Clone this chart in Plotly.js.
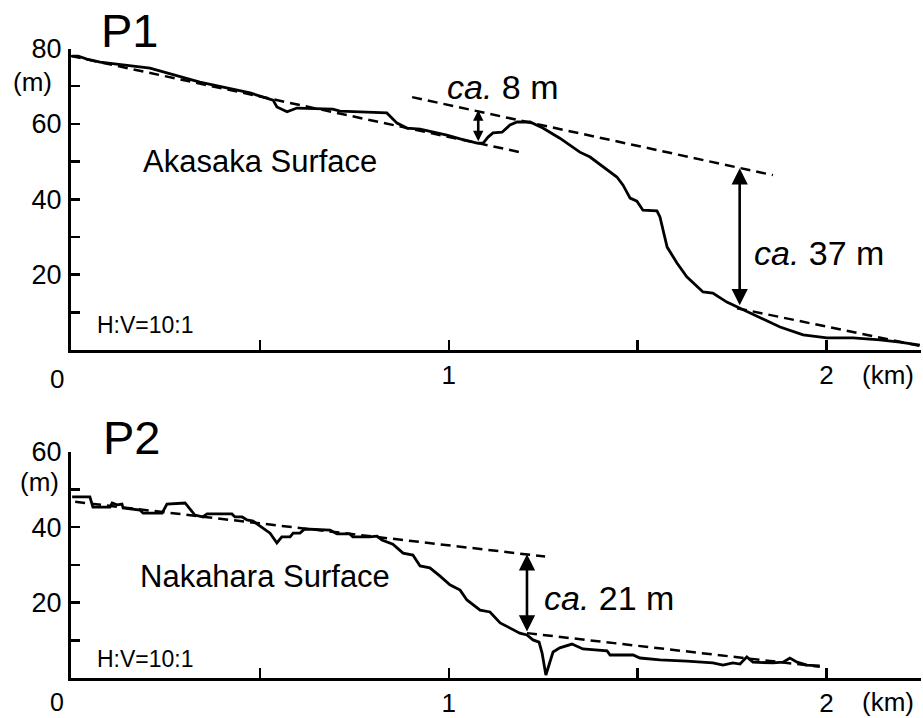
<!DOCTYPE html>
<html>
<head>
<meta charset="utf-8">
<script src="https://cdn.plot.ly/plotly-3.0.1.min.js"></script>
<style>
  html, body { margin: 0; padding: 0; background: #fff; }
  #chart { width: 923px; height: 718px; }
</style>
</head>
<body>
<div id="chart"></div>
<script>
// ---------------- DATA ----------------
// P1 profile (distance km, elevation m)
const p1Dist = [0.003,0.019,0.042,0.077,0.209,0.341,0.474,0.519,0.535,0.545,0.572,0.598,0.693,0.712,0.818,0.836,0.863,0.889,0.924,0.995,1.030,1.075,1.091,1.104,1.117,1.141,1.162,1.181,1.215,1.249,1.294,1.329,1.347,1.374,1.408,1.445,1.461,1.480,1.498,1.514,1.551,1.559,1.578,1.604,1.630,1.646,1.673,1.699,1.736,1.771,1.824,1.877,1.938,2.001,2.070,2.141,2.194,2.247];
const p1Elev = [78.0,78.0,77.2,76.4,74.8,71.1,68.2,66.9,66.3,64.5,63.2,64.2,63.9,63.4,63.1,62.9,60.2,58.9,58.6,57.0,56.0,54.9,54.9,56.5,57.6,57.8,59.7,60.5,60.5,58.9,56.2,53.9,52.5,51.2,48.6,45.9,43.8,40.3,39.5,37.1,36.9,35.3,27.3,23.1,19.4,18.0,15.4,15.1,12.7,11.1,8.5,6.1,4.0,3.2,3.2,2.7,2.1,1.3];

// P2 profile
const p2Dist = [0.003,0.050,0.058,0.103,0.109,0.122,0.135,0.138,0.183,0.191,0.241,0.254,0.302,0.328,0.349,0.360,0.426,0.434,0.453,0.466,0.482,0.506,0.527,0.545,0.558,0.580,0.588,0.606,0.619,0.686,0.704,0.738,0.746,0.791,0.810,0.823,0.852,0.879,0.905,0.924,0.950,0.977,1.003,1.030,1.048,1.083,1.109,1.136,1.162,1.188,1.207,1.223,1.239,1.247,1.257,1.276,1.294,1.326,1.355,1.419,1.427,1.488,1.506,1.559,1.630,1.699,1.726,1.752,1.771,1.789,1.805,1.858,1.885,1.903,1.922,1.948,1.982];
const p2Elev = [48.0,48.0,45.3,45.3,46.4,45.9,46.1,45.1,44.5,43.7,43.7,46.1,46.4,43.2,42.7,43.5,43.5,42.7,42.7,41.9,41.6,39.8,38.4,35.8,37.4,37.4,38.4,38.4,39.5,39.2,38.2,38.2,37.4,37.4,37.6,36.6,35.5,33.1,32.6,29.7,29.2,27.0,24.7,23.3,20.7,18.0,17.5,14.6,13.3,11.9,11.4,10.1,9.5,6.6,0.8,6.9,8.0,9.0,7.7,7.2,6.1,6.1,5.3,4.8,4.5,4.0,3.4,4.0,3.7,5.6,4.2,4.0,4.2,5.3,4.2,3.4,3.2];

// Reference surfaces (dashed)
const p1SurfA_x = [0.0, 1.188],   p1SurfA_y = [78.0, 52.5];
const p1SurfB_x = [0.903, 1.858], p1SurfB_y = [67.1, 46.4];
const p1SurfC_x = [1.763, 2.247], p1SurfC_y = [11.1, 1.1];
const p2SurfA_x = [0.011, 1.255], p2SurfA_y = [46.7, 32.2];
const p2SurfB_x = [1.207, 1.982], p2SurfB_y = [11.9, 3.0];

// Height-difference arrows: [x, top, bottom]
const p1Arrow8  = [1.078, 63.6, 55.0];
const p1Arrow37 = [1.770, 48.2, 11.5];
const p2Arrow21 = [1.207, 32.8, 11.9];

// Tick values / labels
const xTickVals = [0.5, 1, 1.5, 2];
const xTickText = ['', '1', '', '2'];
const y1TickVals = [10, 20, 30, 40, 50, 60, 70, 80];
const y1TickText = ['', '20', '', '40', '', '60', '', '80'];
const y2TickVals = [10, 20, 30, 40, 50, 60];
const y2TickText = ['', '20', '', '40', '', '60'];

// ---------------- CHART ----------------
const FONT = 'Liberation Sans, Arial, Helvetica, sans-serif';
const W = 923, H = 718;

const solid = {color: '#000', width: 2.8};
const dashed = {color: '#000', width: 2.5, dash: '10px,6px'};

const traces = [
  {x: p1Dist, y: p1Elev, xaxis: 'x', yaxis: 'y', mode: 'lines', line: solid, cliponaxis: false},
  {x: p1SurfA_x, y: p1SurfA_y, xaxis: 'x', yaxis: 'y', mode: 'lines', line: dashed, cliponaxis: false},
  {x: p1SurfB_x, y: p1SurfB_y, xaxis: 'x', yaxis: 'y', mode: 'lines', line: dashed, cliponaxis: false},
  {x: p1SurfC_x, y: p1SurfC_y, xaxis: 'x', yaxis: 'y', mode: 'lines', line: dashed, cliponaxis: false},
  {x: p2Dist, y: p2Elev, xaxis: 'x2', yaxis: 'y2', mode: 'lines', line: solid, cliponaxis: false},
  {x: p2SurfA_x, y: p2SurfA_y, xaxis: 'x2', yaxis: 'y2', mode: 'lines', line: dashed, cliponaxis: false},
  {x: p2SurfB_x, y: p2SurfB_y, xaxis: 'x2', yaxis: 'y2', mode: 'lines', line: dashed, cliponaxis: false}
];

function xAxis(anchor) {
  return {
    domain: [71 / W, 921 / W], range: [0, 2.25], anchor: anchor,
    showline: true, linecolor: '#000', linewidth: 3,
    ticks: 'inside', ticklen: 10, tickwidth: 2.5, tickcolor: '#000',
    tickvals: xTickVals, ticktext: xTickText,
    tickfont: {family: FONT, size: 26, color: '#000'},
    ticklabelstandoff: 0,
    showgrid: false, zeroline: false, fixedrange: true
  };
}
function yAxis(anchor, domain, range, vals, text) {
  return {
    domain: domain, range: range, anchor: anchor,
    showline: true, linecolor: '#000', linewidth: 3,
    ticks: 'inside', ticklen: 9, tickwidth: 2.5, tickcolor: '#000',
    tickvals: vals, ticktext: text,
    tickfont: {family: FONT, size: 27, color: '#000'},
    ticklabelstandoff: 1,
    showgrid: false, zeroline: false, fixedrange: true
  };
}

function txt(xref, yref, x, y, text, size, xanchor) {
  return {
    xref: xref, yref: yref, x: x, y: y, text: text, showarrow: false,
    xanchor: xanchor || 'center', yanchor: 'middle',
    font: {family: FONT, size: size, color: '#000'}
  };
}
function ptxt(px, py, text, size, xanchor) {
  return txt('paper', 'paper', px / W, 1 - py / H, text, size, xanchor);
}
function arrow(xref, yref, a, size) {
  return {
    xref: xref, yref: yref, axref: xref, ayref: yref,
    x: a[0], y: a[1], ax: a[0], ay: a[2], text: '',
    showarrow: true, arrowside: 'end+start', arrowhead: 2, startarrowhead: 2,
    arrowsize: size, startarrowsize: size, arrowwidth: 2.6, arrowcolor: '#000',
    standoff: 0, startstandoff: 0
  };
}

const annotations = [
  // P1
  ptxt(130, 30, 'P1', 47),
  ptxt(32, 82, '(m)', 26),
  ptxt(57, 379, '0', 26),
  ptxt(888, 375, '(km)', 26),
  txt('x', 'y', 0.186, 50.1, 'Akasaka Surface', 31, 'left'),
  txt('x', 'y', 0.0635, 6.6, 'H:V=10:1', 23, 'left'),
  txt('x', 'y', 0.990, 69.8, '<i>ca.</i> 8 m', 34, 'left'),
  txt('x', 'y', 1.803, 25.7, '<i>ca.</i> 37 m', 34, 'left'),
  arrow('x', 'y', p1Arrow8, 0.8),
  arrow('x', 'y', p1Arrow37, 1.25),
  // P2
  ptxt(132, 437, 'P2', 47),
  ptxt(39, 482, '(m)', 26),
  ptxt(57, 702, '0', 25),
  ptxt(888, 702, '(km)', 26),
  txt('x2', 'y2', 0.177, 27.0, 'Nakahara Surface', 31, 'left'),
  txt('x2', 'y2', 0.0635, 5.0, 'H:V=10:1', 23, 'left'),
  txt('x2', 'y2', 1.247, 21.2, '<i>ca.</i> 21 m', 34, 'left'),
  arrow('x2', 'y2', p2Arrow21, 1.25)
];

const layout = {
  width: W, height: H,
  margin: {l: 0, r: 0, t: 0, b: 0},
  paper_bgcolor: '#fff', plot_bgcolor: '#fff',
  showlegend: false,
  font: {family: FONT, color: '#000'},
  xaxis: xAxis('y'),
  yaxis: yAxis('x', [1 - 350 / H, 1 - 48.5 / H], [0, 80], y1TickVals, y1TickText),
  xaxis2: xAxis('y2'),
  yaxis2: yAxis('x2', [1 - 678 / H, 1 - 451.7 / H], [0, 60], y2TickVals, y2TickText),
  annotations: annotations
};

Plotly.newPlot('chart', traces, layout, {displayModeBar: false, staticPlot: true});
</script>
</body>
</html>
